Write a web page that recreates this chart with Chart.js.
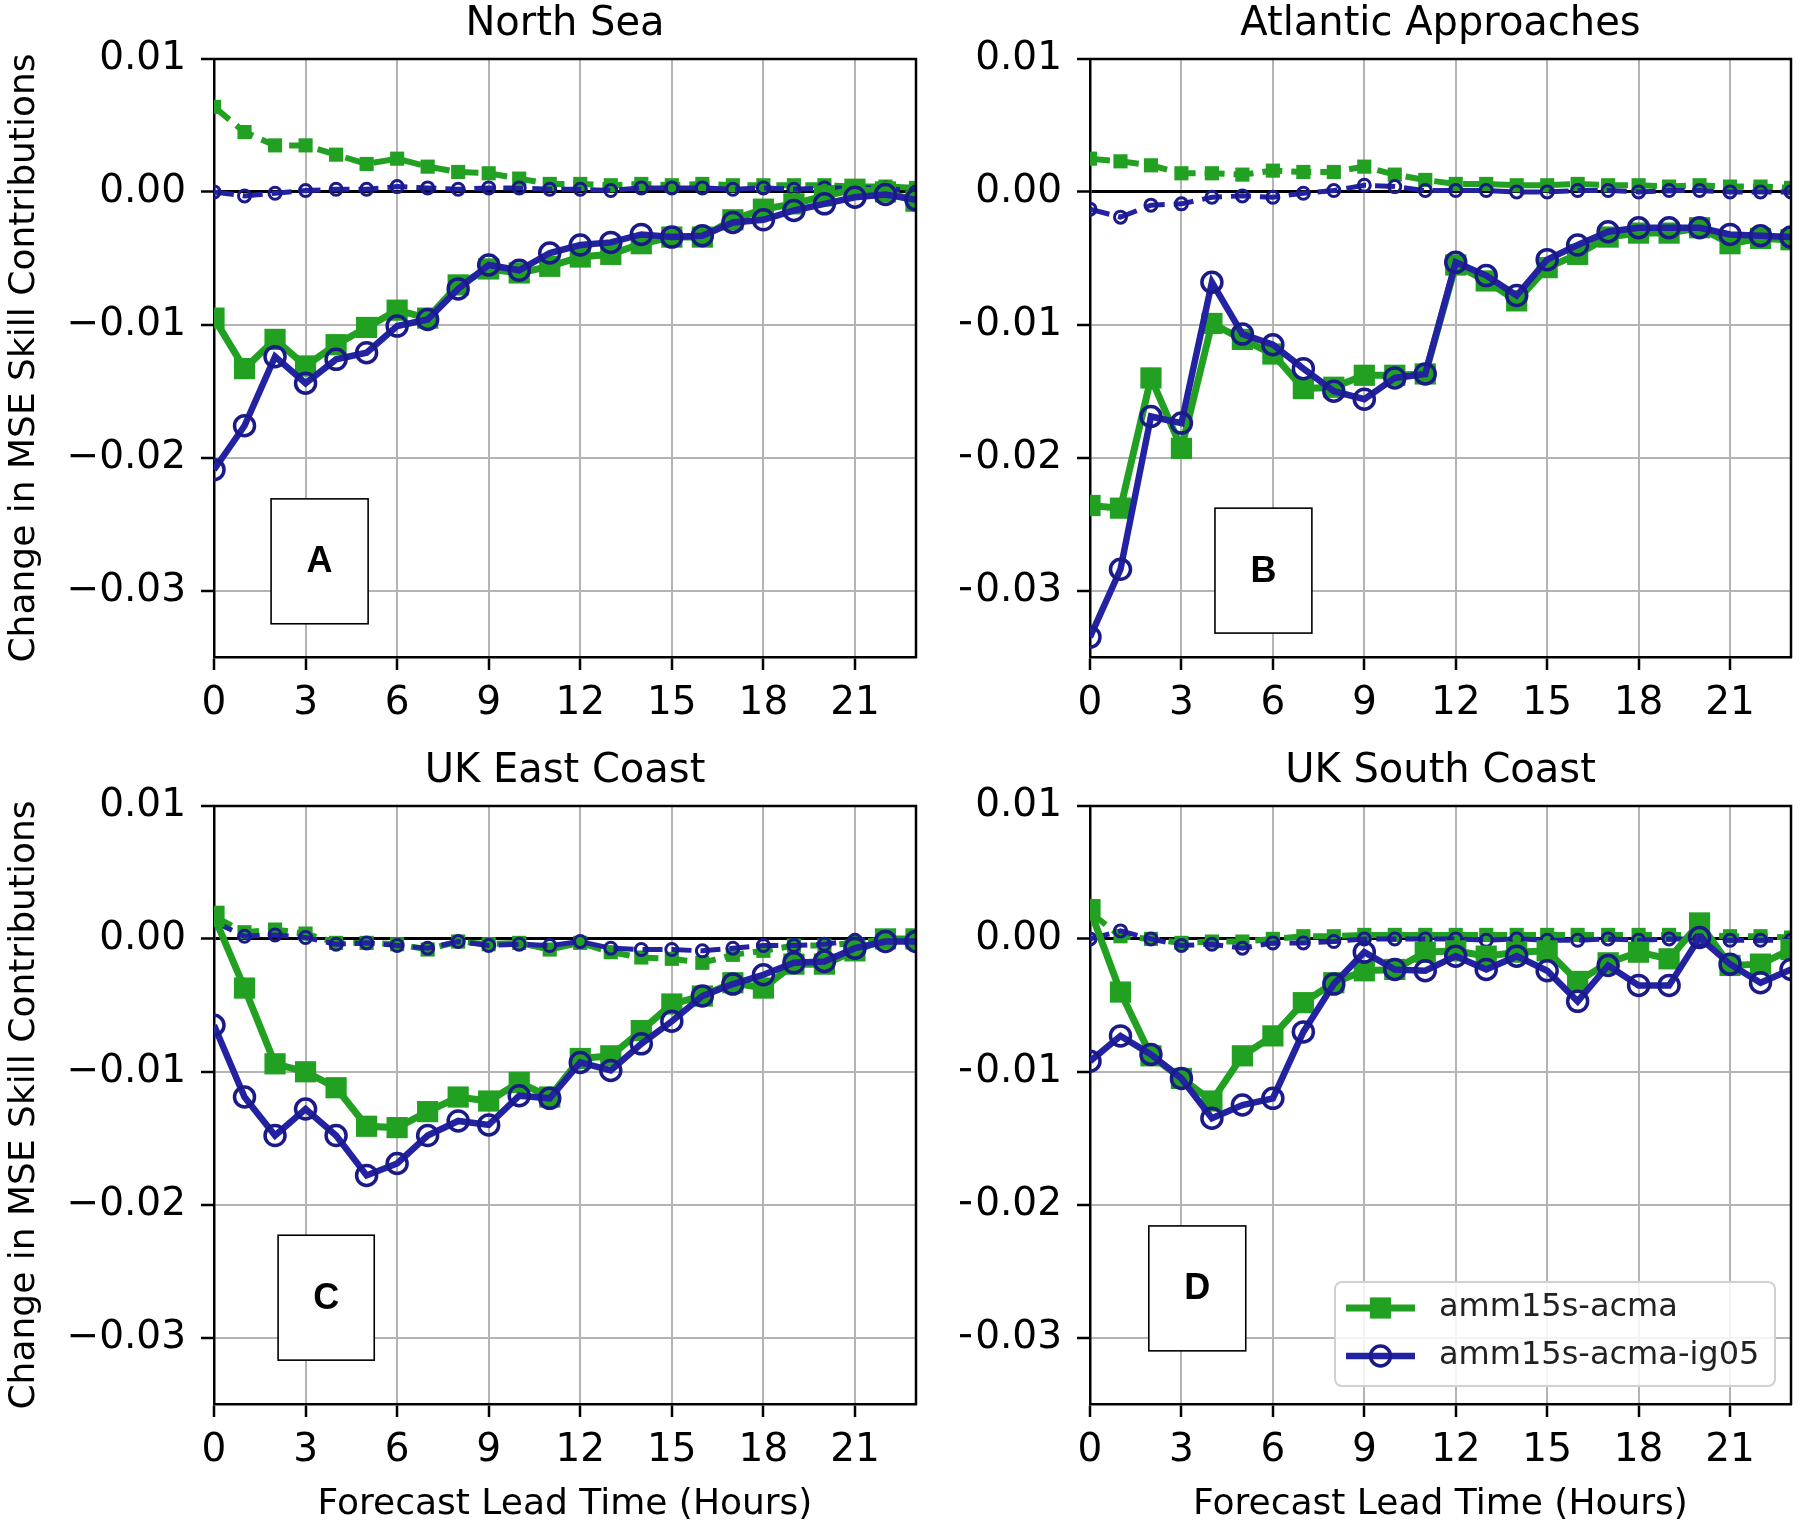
<!DOCTYPE html>
<html>
<head>
<meta charset="utf-8">
<script src="https://cdn.jsdelivr.net/npm/chart.js@4.4.0/dist/chart.umd.min.js"></script>
<style>
html,body{margin:0;padding:0;background:#ffffff;}
#wrap{position:relative;width:1816px;height:1531px;overflow:hidden;background:#ffffff;}
#wrap canvas{position:absolute;}
</style>
</head>
<body>
<div id="wrap">
  <canvas id="cA" width="960" height="747" style="left:0px;top:0px;width:960px;height:747px;"></canvas>
  <canvas id="cB" width="856" height="747" style="left:960px;top:0px;width:856px;height:747px;"></canvas>
  <canvas id="cC" width="960" height="784" style="left:0px;top:747px;width:960px;height:784px;"></canvas>
  <canvas id="cD" width="856" height="784" style="left:960px;top:747px;width:856px;height:784px;"></canvas>
</div>
<script>
// ---------------- DATA ----------------
const hours = [0,1,2,3,4,5,6,7,8,9,10,11,12,13,14,15,16,17,18,19,20,21,22,23];
const xTickValues = [0,3,6,9,12,15,18,21];
const yTickValues = [0.01,0,-0.01,-0.02,-0.03];
const panelTitles = ['North Sea','Atlantic Approaches','UK East Coast','UK South Coast'];
const panelLetters = ['A','B','C','D'];
const seriesNames = ['amm15s-acma','amm15s-acma-ig05'];
const xAxisTitle = 'Forecast Lead Time (Hours)';
const yAxisTitle = 'Change in MSE Skill Contributions';

// North Sea
const northSeaAcma       = [-0.0095,-0.0133,-0.0111,-0.0131,-0.0115,-0.0102,-0.0089,-0.0095,-0.0070,-0.0058,-0.0061,-0.0056,-0.0049,-0.0047,-0.0039,-0.0034,-0.0034,-0.0021,-0.0013,-0.0009,-0.0003,0.0002,0.0000,-0.0007];
const northSeaIg05       = [-0.0209,-0.0176,-0.0124,-0.0144,-0.0126,-0.0121,-0.0101,-0.0096,-0.0073,-0.0055,-0.0059,-0.0046,-0.0040,-0.0038,-0.0032,-0.0034,-0.0033,-0.0023,-0.0021,-0.0014,-0.0009,-0.0004,-0.0002,-0.0006];
const northSeaAcmaDash   = [0.0064,0.0045,0.0035,0.0035,0.0028,0.0021,0.0025,0.0019,0.0015,0.0014,0.0010,0.0006,0.0006,0.0005,0.0006,0.0005,0.0006,0.0005,0.0005,0.0005,0.0005,0.0004,0.0004,0.0003];
const northSeaIg05Dash   = [0.0000,-0.0003,-0.0001,0.0001,0.0002,0.0002,0.0004,0.0003,0.0002,0.0003,0.0003,0.0002,0.0002,0.0001,0.0003,0.0003,0.0003,0.0002,0.0003,0.0002,0.0003,0.0003,0.0003,0.0000];

// Atlantic Approaches
const atlanticAcma       = [-0.0236,-0.0238,-0.0140,-0.0193,-0.0099,-0.0111,-0.0122,-0.0148,-0.0147,-0.0138,-0.0138,-0.0137,-0.0055,-0.0067,-0.0082,-0.0057,-0.0047,-0.0034,-0.0031,-0.0031,-0.0027,-0.0039,-0.0035,-0.0036];
const atlanticIg05       = [-0.0335,-0.0284,-0.0169,-0.0174,-0.0068,-0.0107,-0.0115,-0.0133,-0.0150,-0.0156,-0.0140,-0.0137,-0.0053,-0.0063,-0.0078,-0.0051,-0.0040,-0.0030,-0.0027,-0.0027,-0.0027,-0.0032,-0.0033,-0.0034];
const atlanticAcmaDash   = [0.0025,0.0023,0.0020,0.0014,0.0014,0.0013,0.0016,0.0015,0.0015,0.0019,0.0013,0.0009,0.0006,0.0006,0.0005,0.0005,0.0006,0.0005,0.0005,0.0004,0.0005,0.0004,0.0004,0.0003];
const atlanticIg05Dash   = [-0.0013,-0.0019,-0.0010,-0.0009,-0.0004,-0.0003,-0.0004,-0.0001,0.0001,0.0005,0.0004,0.0001,0.0001,0.0001,0.0000,0.0000,0.0001,0.0001,0.0000,0.0001,0.0001,0.0000,0.0000,0.0000];

// UK East Coast
const eastCoastAcma      = [0.0017,-0.0037,-0.0094,-0.0100,-0.0112,-0.0141,-0.0142,-0.0130,-0.0119,-0.0122,-0.0108,-0.0119,-0.0090,-0.0088,-0.0069,-0.0049,-0.0043,-0.0033,-0.0037,-0.0019,-0.0019,-0.0009,0.0000,0.0000];
const eastCoastIg05      = [-0.0065,-0.0119,-0.0148,-0.0128,-0.0148,-0.0178,-0.0169,-0.0148,-0.0137,-0.0140,-0.0118,-0.0120,-0.0093,-0.0099,-0.0079,-0.0062,-0.0043,-0.0034,-0.0027,-0.0018,-0.0017,-0.0007,-0.0002,-0.0002];
const eastCoastAcmaDash  = [0.0017,0.0005,0.0007,0.0004,-0.0003,-0.0003,-0.0004,-0.0008,-0.0002,-0.0004,-0.0003,-0.0008,-0.0003,-0.0010,-0.0014,-0.0015,-0.0018,-0.0012,-0.0009,-0.0005,-0.0005,-0.0003,0.0000,0.0000];
const eastCoastIg05Dash  = [0.0013,0.0002,0.0003,0.0001,-0.0004,-0.0003,-0.0005,-0.0007,-0.0002,-0.0005,-0.0004,-0.0005,-0.0002,-0.0007,-0.0008,-0.0008,-0.0009,-0.0007,-0.0005,-0.0005,-0.0004,-0.0001,0.0000,0.0000];

// UK South Coast
const southCoastAcma     = [0.0022,-0.0040,-0.0088,-0.0105,-0.0122,-0.0088,-0.0073,-0.0048,-0.0033,-0.0024,-0.0023,-0.0010,-0.0009,-0.0013,-0.0010,-0.0009,-0.0032,-0.0018,-0.0010,-0.0015,0.0012,-0.0020,-0.0019,-0.0008];
const southCoastIg05     = [-0.0092,-0.0073,-0.0087,-0.0105,-0.0135,-0.0125,-0.0120,-0.0070,-0.0034,-0.0010,-0.0023,-0.0024,-0.0013,-0.0023,-0.0013,-0.0024,-0.0047,-0.0020,-0.0035,-0.0035,0.0001,-0.0019,-0.0033,-0.0023];
const southCoastAcmaDash = [0.0020,0.0002,0.0000,-0.0003,-0.0002,-0.0002,0.0000,0.0002,0.0002,0.0003,0.0003,0.0003,0.0003,0.0003,0.0003,0.0003,0.0003,0.0003,0.0003,0.0003,0.0003,0.0002,0.0002,0.0001];
const southCoastIg05Dash = [0.0000,0.0006,0.0000,-0.0005,-0.0004,-0.0007,-0.0003,-0.0003,-0.0002,0.0000,0.0000,0.0000,0.0000,-0.0001,0.0000,-0.0001,-0.0001,0.0000,-0.0001,0.0000,0.0000,-0.0001,-0.0001,-0.0001];

// ---------------- STYLE / LAYOUT ----------------
const FONT = "'DejaVu Sans', 'Liberation Sans', sans-serif";
const GREEN = '#22a022';
const BLUE = '#2222a2';
const BLUE_EDGE = '#1a1a88';

const panels = [
  {id:'cA', title:panelTitles[0], letter:panelLetters[0], series:[northSeaAcma, northSeaIg05, northSeaAcmaDash, northSeaIg05Dash],
   yW:214, padR:44, xH:90, yTitle:true, xTitle:false, box:{x0:1.87, x1:5.05, y0:-0.0231, y1:-0.0325}, legend:false},
  {id:'cB', title:panelTitles[1], letter:panelLetters[1], series:[atlanticAcma, atlanticIg05, atlanticAcmaDash, atlanticIg05Dash],
   yW:130, padR:25, xH:90, yTitle:false, xTitle:false, box:{x0:4.10, x1:7.28, y0:-0.0238, y1:-0.0332}, legend:false},
  {id:'cC', title:panelTitles[2], letter:panelLetters[2], series:[eastCoastAcma, eastCoastIg05, eastCoastAcmaDash, eastCoastIg05Dash],
   yW:214, padR:44, xH:127, yTitle:true, xTitle:true, box:{x0:2.10, x1:5.25, y0:-0.0223, y1:-0.0317}, legend:false},
  {id:'cD', title:panelTitles[3], letter:panelLetters[3], series:[southCoastAcma, southCoastIg05, southCoastAcmaDash, southCoastIg05Dash],
   yW:130, padR:25, xH:127, yTitle:false, xTitle:true, box:{x0:1.93, x1:5.11, y0:-0.0216, y1:-0.0310}, legend:true}
];

function pts(vals){ return hours.map((h,i)=>({x:h, y:vals[i]})); }

const overlayPlugin = {
  id:'overlay',
  afterDatasetsDraw(chart, args, opts){
    const ctx = chart.ctx, a = chart.chartArea, xs = chart.scales.x, ys = chart.scales.y;
    ctx.save();
    // top & right spines
    ctx.strokeStyle = '#000'; ctx.lineWidth = 2.5;
    ctx.beginPath();
    ctx.moveTo(a.left - 1, a.top); ctx.lineTo(a.right, a.top); ctx.lineTo(a.right, a.bottom + 1);
    ctx.stroke();
    // letter box
    const b = opts.box;
    const bx0 = xs.getPixelForValue(b.x0), bx1 = xs.getPixelForValue(b.x1);
    const by0 = ys.getPixelForValue(b.y0), by1 = ys.getPixelForValue(b.y1);
    ctx.fillStyle = '#fff';
    ctx.fillRect(bx0, by0, bx1 - bx0, by1 - by0);
    ctx.strokeStyle = '#000'; ctx.lineWidth = 1.6;
    ctx.strokeRect(bx0, by0, bx1 - bx0, by1 - by0);
    ctx.fillStyle = '#000';
    ctx.font = "bold 36px 'Liberation Sans', Arial, sans-serif";
    ctx.textAlign = 'center'; ctx.textBaseline = 'middle';
    ctx.fillText(opts.letter, (bx0 + bx1) / 2, (by0 + by1) / 2 + 1);
    // legend
    if (opts.legend) {
      const w = 440, h = 104;
      const L = a.right - 16 - w, T = a.bottom - 18 - h;
      ctx.fillStyle = 'rgba(255,255,255,0.85)';
      ctx.strokeStyle = '#d0d0d0'; ctx.lineWidth = 2;
      ctx.beginPath();
      if (ctx.roundRect) ctx.roundRect(L, T, w, h, 7); else ctx.rect(L, T, w, h);
      ctx.fill(); ctx.stroke();
      const ds = chart.data.datasets;
      const rows = [ds[0], ds[1]];
      rows.forEach((d, i) => {
        const cy = T + 26 + i * 48;
        const lx0 = L + 11, lx1 = L + 80, mx = (lx0 + lx1) / 2;
        ctx.strokeStyle = d.borderColor; ctx.lineWidth = d.borderWidth; ctx.setLineDash([]);
        ctx.beginPath(); ctx.moveTo(lx0, cy); ctx.lineTo(lx1, cy); ctx.stroke();
        if (d.pointStyle === 'rect') {
          const s = d.pointRadius * Math.SQRT2;
          ctx.fillStyle = d.pointBackgroundColor;
          ctx.fillRect(mx - s / 2, cy - s / 2, s, s);
        } else {
          ctx.strokeStyle = d.pointBorderColor; ctx.lineWidth = d.pointBorderWidth;
          ctx.beginPath(); ctx.arc(mx, cy, d.pointRadius, 0, Math.PI * 2); ctx.stroke();
        }
        ctx.fillStyle = '#222';
        ctx.font = "32px " + FONT;
        ctx.textAlign = 'left'; ctx.textBaseline = 'middle';
        ctx.fillText(d.label, L + 104, cy);
      });
    }
    ctx.restore();
  }
};

function yLabel(v){
  if (Math.abs(v) < 1e-12) return '0.00';
  return (v < 0 ? '\u2212' : '') + Math.abs(v).toFixed(2);
}

panels.forEach(p => {
  const [acma, ig05, acmaDash, ig05Dash] = p.series;
  const datasets = [
    {label:seriesNames[0], data:pts(acma), order:1, borderColor:GREEN, borderWidth:7, pointStyle:'rect',
     pointRadius:15, pointBackgroundColor:GREEN, pointBorderColor:GREEN, pointBorderWidth:0, tension:0, clip:0},
    {label:seriesNames[1], data:pts(ig05), order:0, borderColor:BLUE, borderWidth:6.5, pointStyle:'circle',
     pointRadius:10, pointBackgroundColor:'rgba(0,0,0,0)', pointBorderColor:BLUE_EDGE, pointBorderWidth:3.5, tension:0, clip:0},
    {label:seriesNames[0] + ' (dashed)', data:pts(acmaDash), order:3, borderColor:GREEN, borderWidth:6, borderDash:[20,9], pointStyle:'rect',
     pointRadius:10, pointBackgroundColor:GREEN, pointBorderColor:GREEN, pointBorderWidth:0, tension:0, clip:0},
    {label:seriesNames[1] + ' (dashed)', data:pts(ig05Dash), order:2, borderColor:BLUE, borderWidth:5, borderDash:[20,9], pointStyle:'circle',
     pointRadius:6, pointBackgroundColor:'rgba(0,0,0,0)', pointBorderColor:BLUE_EDGE, pointBorderWidth:3, tension:0, clip:0}
  ];
  new Chart(document.getElementById(p.id), {
    type:'line',
    data:{datasets},
    plugins:[overlayPlugin],
    options:{
      responsive:false, animation:false, devicePixelRatio:1,
      layout:{padding:{left:0, right:p.padR, top:0, bottom:0}},
      plugins:{
        legend:{display:false},
        tooltip:{enabled:false},
        title:{display:true, text:p.title, color:'#000', fullSize:false,
               font:{family:FONT, size:40, weight:'normal', lineHeight:1}, padding:{top:5, bottom:14}},
        overlay:{box:p.box, letter:p.letter, legend:p.legend}
      },
      scales:{
        x:{
          type:'linear', min:0, max:23,
          afterBuildTicks:s => { s.ticks = xTickValues.map(v => ({value:v})); },
          afterFit:s => { s.height = p.xH; },
          grid:{color:'#b4b4b4', lineWidth:2, tickColor:'#000', tickLength:13, tickWidth:2.5},
          border:{color:'#000', width:2.5},
          ticks:{color:'#000', font:{family:FONT, size:39}, padding:10, maxRotation:0, autoSkip:false, callback:v => String(v)},
          title:{display:p.xTitle, text:xAxisTitle, color:'#000', font:{family:FONT, size:36}, padding:{top:0, bottom:5}}
        },
        y:{
          type:'linear', min:-0.035, max:0.01,
          afterBuildTicks:s => { s.ticks = yTickValues.map(v => ({value:v})); },
          afterFit:s => { s.width = p.yW; },
          grid:{
            color:c => (c.tick && Math.abs(c.tick.value) < 1e-12) ? '#000' : '#b4b4b4',
            lineWidth:c => (c.tick && Math.abs(c.tick.value) < 1e-12) ? 3 : 2,
            tickColor:'#000', tickLength:13, tickWidth:2.5
          },
          border:{color:'#000', width:2.5},
          ticks:{color:'#000', font:{family:FONT, size:39}, padding:15, callback:v => yLabel(v)},
          title:{display:p.yTitle, text:yAxisTitle, color:'#000', font:{family:FONT, size:36}, padding:{top:3, bottom:0}}
        }
      }
    }
  });
});
</script>
</body>
</html>
